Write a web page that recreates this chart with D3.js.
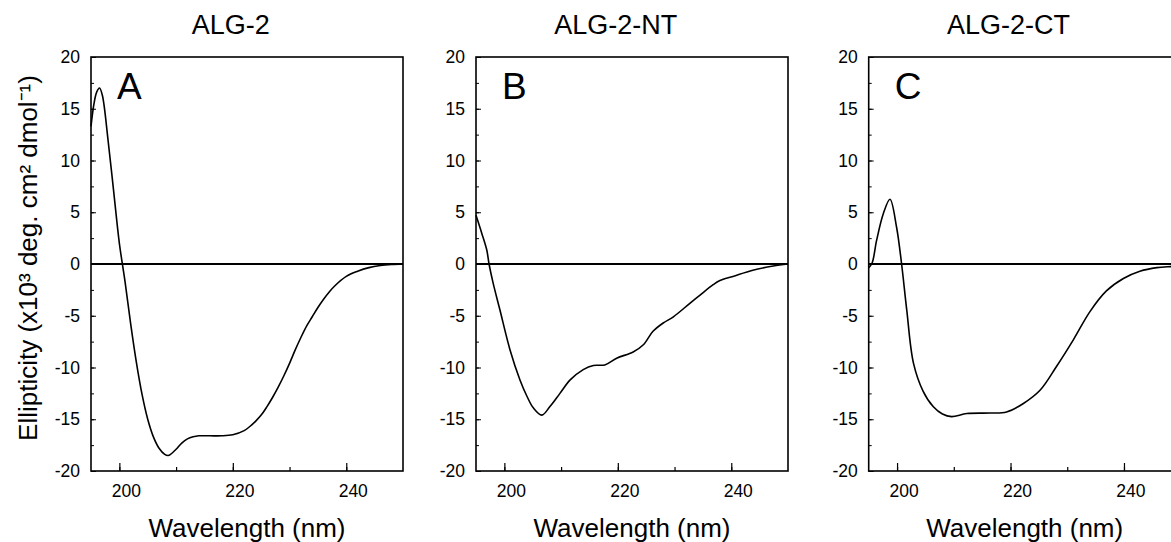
<!DOCTYPE html>
<html>
<head>
<meta charset="utf-8">
<script src="https://cdn.jsdelivr.net/npm/d3@7"></script>
<style>
  html, body { margin: 0; padding: 0; background: #fff; overflow: hidden; }
  svg { display: block; font-family: "Liberation Sans", Arial, Helvetica, sans-serif; }
</style>
</head>
<body>
<svg id="chart" width="1171" height="542"></svg>
<script>
// ---------- data ----------
const titles = ["ALG-2", "ALG-2-NT", "ALG-2-CT"];
const panelLetters = ["A", "B", "C"];
const xTickLabels = [200, 220, 240];
const xTickAll = [200, 210, 220, 230, 240];
const yTickLabels = [-20, -15, -10, -5, 0, 5, 10, 15, 20];
const yTickAll = [-20, -17.5, -15, -12.5, -10, -7.5, -5, -2.5, 0, 2.5, 5, 7.5, 10, 12.5, 15, 17.5, 20];
const xDomain = [195, 250];
const yDomain = [-20, 20];
const yAxisTitle = "Ellipticity (x10³ deg. cm² dmol⁻¹)";
const xAxisTitle = "Wavelength (nm)";

// Panel A: ALG-2
const wavelengthA = [195, 195.5, 196, 196.5, 197, 198, 199, 200, 201, 202, 203, 204, 205, 206, 207, 208, 208.6, 209, 210, 211, 212, 213, 214, 216, 218, 220, 222, 223, 224, 225, 226, 227, 228, 229, 230, 231, 232, 233, 234, 235, 236, 237, 238, 240, 242, 244, 246, 248, 250];
const ellipA = [13.3, 15.4, 16.6, 17.0, 16.3, 12.0, 7.0, 2.0, -1.7, -5.8, -9.5, -12.6, -15.0, -16.7, -17.8, -18.4, -18.5, -18.4, -17.9, -17.3, -16.9, -16.7, -16.6, -16.6, -16.6, -16.5, -16.1, -15.7, -15.2, -14.6, -13.8, -12.9, -11.9, -10.8, -9.6, -8.3, -7.1, -6.0, -5.1, -4.2, -3.4, -2.7, -2.1, -1.2, -0.7, -0.35, -0.15, -0.05, 0];

// Panel B: ALG-2-NT
const wavelengthB = [195, 196, 196.9, 197.3, 198, 199.2, 201.0, 202.75, 204, 205.1, 206.6, 208.0, 209.8, 211.6, 213.9, 215.7, 217.7, 219.8, 222.7, 224.5, 226.2, 228.0, 229.8, 232.7, 234.5, 236.8, 238, 240.3, 243.8, 247.4, 250];
const ellipB = [4.7, 3.0, 1.35, 0, -1.8, -4.4, -8.3, -11.2, -12.8, -13.9, -14.6, -13.8, -12.5, -11.2, -10.2, -9.8, -9.75, -9.1, -8.5, -7.8, -6.5, -5.7, -5.1, -3.8, -3.0, -2.0, -1.6, -1.2, -0.6, -0.2, 0];

// Panel C: ALG-2-CT
const wavelengthC = [195, 195.6, 196.4, 197.6, 198.75, 199.9, 200.8, 201.7, 202.9, 204.6, 206.4, 208.0, 209.6, 212.3, 216.4, 219.3, 222.2, 225.2, 228.1, 231.1, 234.0, 236.9, 239.9, 242.8, 245.8, 248.3, 250];
const ellipC = [-0.35, 0.1, 2.3, 4.9, 6.25, 3.6, 0, -4.4, -9.6, -12.3, -13.8, -14.5, -14.75, -14.45, -14.4, -14.3, -13.5, -12.2, -9.9, -7.3, -4.6, -2.6, -1.4, -0.7, -0.35, -0.25, -0.2];

const wavelengths = [wavelengthA, wavelengthB, wavelengthC];
const ellipticities = [ellipA, ellipB, ellipC];

// ---------- layout / style ----------
const panelLeft = [91, 476, 868.7];
const plotTop = 57, plotBottom = 471, plotWidth = 312;
const zeroLineWidth = [1.2, 2, 1.2];

const svg = d3.select("#chart");

const y = d3.scaleLinear().domain(yDomain).range([plotBottom, plotTop]);

titles.forEach((title, i) => {
  const left = panelLeft[i];
  const x = d3.scaleLinear().domain(xDomain).range([left, left + plotWidth]);
  const g = svg.append("g");

  // zero line
  g.append("line")
    .attr("x1", x(xDomain[0])).attr("x2", x(xDomain[1]))
    .attr("y1", y(0)).attr("y2", y(0))
    .attr("stroke", "#000").attr("stroke-width", zeroLineWidth[i])
    .attr("shape-rendering", "crispEdges");

  // x axis (ticks inward)
  const xAxisMinor = d3.axisTop(x).tickValues(xTickAll).tickSize(4).tickFormat("");
  g.append("g").attr("transform", `translate(0,${plotBottom})`).call(xAxisMinor)
    .call(s => s.select(".domain").remove())
    .call(s => s.selectAll("line").attr("stroke", "#000").attr("stroke-width", 1.2));
  const xAxisMajor = d3.axisTop(x).tickValues(xTickLabels).tickSize(8).tickFormat("");
  g.append("g").attr("transform", `translate(0,${plotBottom})`).call(xAxisMajor)
    .call(s => s.select(".domain").remove())
    .call(s => s.selectAll("line").attr("stroke", "#000").attr("stroke-width", 1.2));
  // x tick labels
  g.selectAll(".xlab").data(xTickLabels).enter().append("text")
    .attr("x", d => x(d) + 7).attr("y", 497)
    .attr("text-anchor", "middle").attr("font-size", 17.5).attr("fill", "#000")
    .text(d => d);

  // y axis (ticks inward)
  const yAxisMinor = d3.axisRight(y).tickValues(yTickAll).tickSize(3).tickFormat("");
  g.append("g").attr("transform", `translate(${left},0)`).call(yAxisMinor)
    .call(s => s.select(".domain").remove())
    .call(s => s.selectAll("line").attr("stroke", "#000").attr("stroke-width", 1));
  const yAxisMajor = d3.axisRight(y).tickValues(yTickLabels).tickSize(5).tickFormat("");
  g.append("g").attr("transform", `translate(${left},0)`).call(yAxisMajor)
    .call(s => s.select(".domain").remove())
    .call(s => s.selectAll("line").attr("stroke", "#000").attr("stroke-width", 1));
  g.selectAll(".ylab").data(yTickLabels).enter().append("text")
    .attr("x", left - 11).attr("y", d => y(d) + 6)
    .attr("text-anchor", "end").attr("font-size", 17.5).attr("fill", "#000")
    .text(d => d);

  // frame
  g.append("rect")
    .attr("x", x(xDomain[0])).attr("y", plotTop)
    .attr("width", x(xDomain[1]) - x(xDomain[0])).attr("height", plotBottom - plotTop)
    .attr("fill", "none").attr("stroke", "#000").attr("stroke-width", 1.6);

  // curve
  const pts = wavelengths[i].map((w, k) => [w, ellipticities[i][k]]);
  const line = d3.line().x(d => x(d[0])).y(d => y(d[1])).curve(d3.curveCatmullRom.alpha(0.5));
  g.append("path").datum(pts).attr("d", line)
    .attr("fill", "none").attr("stroke", "#000").attr("stroke-width", 1.6);

  // title
  g.append("text")
    .attr("x", x(220) - 2).attr("y", 34)
    .attr("text-anchor", "middle").attr("font-size", 27).attr("fill", "#000")
    .text(title);

  // panel letter
  g.append("text")
    .attr("x", left + 26).attr("y", 99)
    .attr("font-size", 37).attr("fill", "#000")
    .text(panelLetters[i]);

  // x axis title
  g.append("text")
    .attr("x", left + plotWidth / 2).attr("y", 537)
    .attr("text-anchor", "middle").attr("font-size", 26).attr("fill", "#000")
    .text(xAxisTitle);
});

// y axis title
svg.append("text")
  .attr("transform", "translate(37,258) rotate(-90)")
  .attr("text-anchor", "middle").attr("font-size", 26).attr("fill", "#000")
  .text(yAxisTitle);
</script>
</body>
</html>
